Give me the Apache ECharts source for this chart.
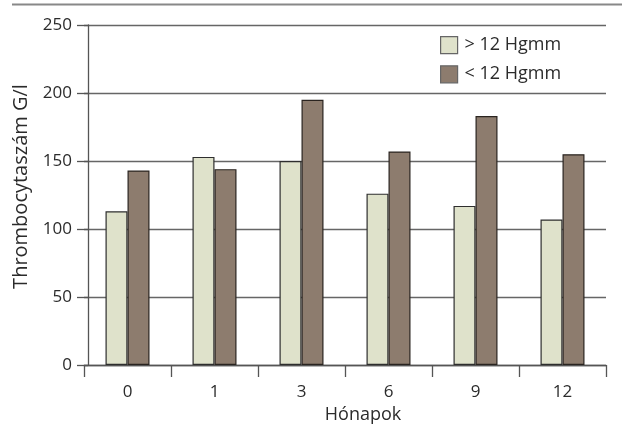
<!DOCTYPE html>
<html>
<head>
<meta charset="utf-8">
<script src="https://cdn.jsdelivr.net/npm/echarts@6/dist/echarts.min.js"></script>
<style>
  html, body { margin: 0; padding: 0; background: #fff; }
  #chart { width: 622px; height: 424px; }
</style>
</head>
<body>
<div id="chart"></div>
<script>
// Months after treatment (category axis)
const months = ['0', '1', '3', '6', '9', '12'];
// Platelet counts (G/l) by haemoglobin group
const seriesNames = ['> 12 Hgmm', '< 12 Hgmm'];
const above12 = [113, 153, 150, 126, 117, 107];
const below12 = [143, 144, 195, 157, 183, 155];
// Value axis range
const yMin = 0;
const yMax = 250;
const yStep = 50;

const FONT = '"Open Sans", "Noto Sans", sans-serif';
const TEXT = '#2b2b2b';
const LINE = '#555';

const chart = echarts.init(document.getElementById('chart'), null, { renderer: 'canvas' });

chart.setOption({
  backgroundColor: '#fff',
  animation: false,
  textStyle: { fontFamily: FONT, color: TEXT },
  graphic: [{
    type: 'line',
    shape: { x1: 12, y1: 4.5, x2: 622, y2: 4.5 },
    style: { stroke: '#888', lineWidth: 2 }
  }],
  legend: {
    orient: 'vertical',
    left: 435,
    top: 31,
    itemWidth: 17,
    itemHeight: 17,
    itemGap: 11,
    icon: 'rect',
    itemStyle: { borderColor: '#666', borderWidth: 1.2 },
    textStyle: { fontFamily: FONT, fontSize: 18, color: TEXT, padding: [0, 0, 0, 2] },
    data: seriesNames
  },
  grid: { left: 84, top: 25, width: 522, height: 340, outerBoundsMode: 'none' },
  xAxis: {
    type: 'category',
    data: months,
    name: 'Hónapok',
    nameLocation: 'middle',
    nameGap: 35,
    nameTextStyle: { fontFamily: FONT, fontSize: 18, color: TEXT, padding: [0, 0, 0, 36] },
    axisLine: { lineStyle: { color: LINE, width: 1.3 } },
    axisTick: { show: true, length: 12, lineStyle: { color: LINE, width: 1.3 } },
    axisLabel: { fontFamily: FONT, fontSize: 17, color: TEXT, margin: 19 }
  },
  yAxis: {
    type: 'value',
    min: yMin,
    max: yMax,
    interval: yStep,
    offset: -4,
    name: 'Thrombocytaszám G/l',
    nameLocation: 'middle',
    nameGap: 57,
    nameRotate: 90,
    nameTextStyle: { fontFamily: FONT, fontSize: 20, color: TEXT, padding: [0, 0, 0, 17] },
    axisLine: { show: true, lineStyle: { color: LINE, width: 1.3 } },
    axisTick: { show: true, length: 11, lineStyle: { color: LINE, width: 1.3 } },
    axisLabel: { fontFamily: FONT, fontSize: 17, color: TEXT, margin: 16 },
    splitLine: { show: true, lineStyle: { color: '#666', width: 1.3 } }
  },
  series: [
    {
      name: seriesNames[0],
      type: 'bar',
      data: above12,
      barWidth: 22,
      barGap: '0%',
      itemStyle: { color: '#dfe2cb', borderColor: '#2e2e2e', borderWidth: 1.2 }
    },
    {
      name: seriesNames[1],
      type: 'bar',
      data: below12,
      barWidth: 22,
      barGap: '0%',
      itemStyle: { color: '#8d7c6e', borderColor: '#2a2420', borderWidth: 1.2 }
    }
  ]
});
</script>
</body>
</html>
